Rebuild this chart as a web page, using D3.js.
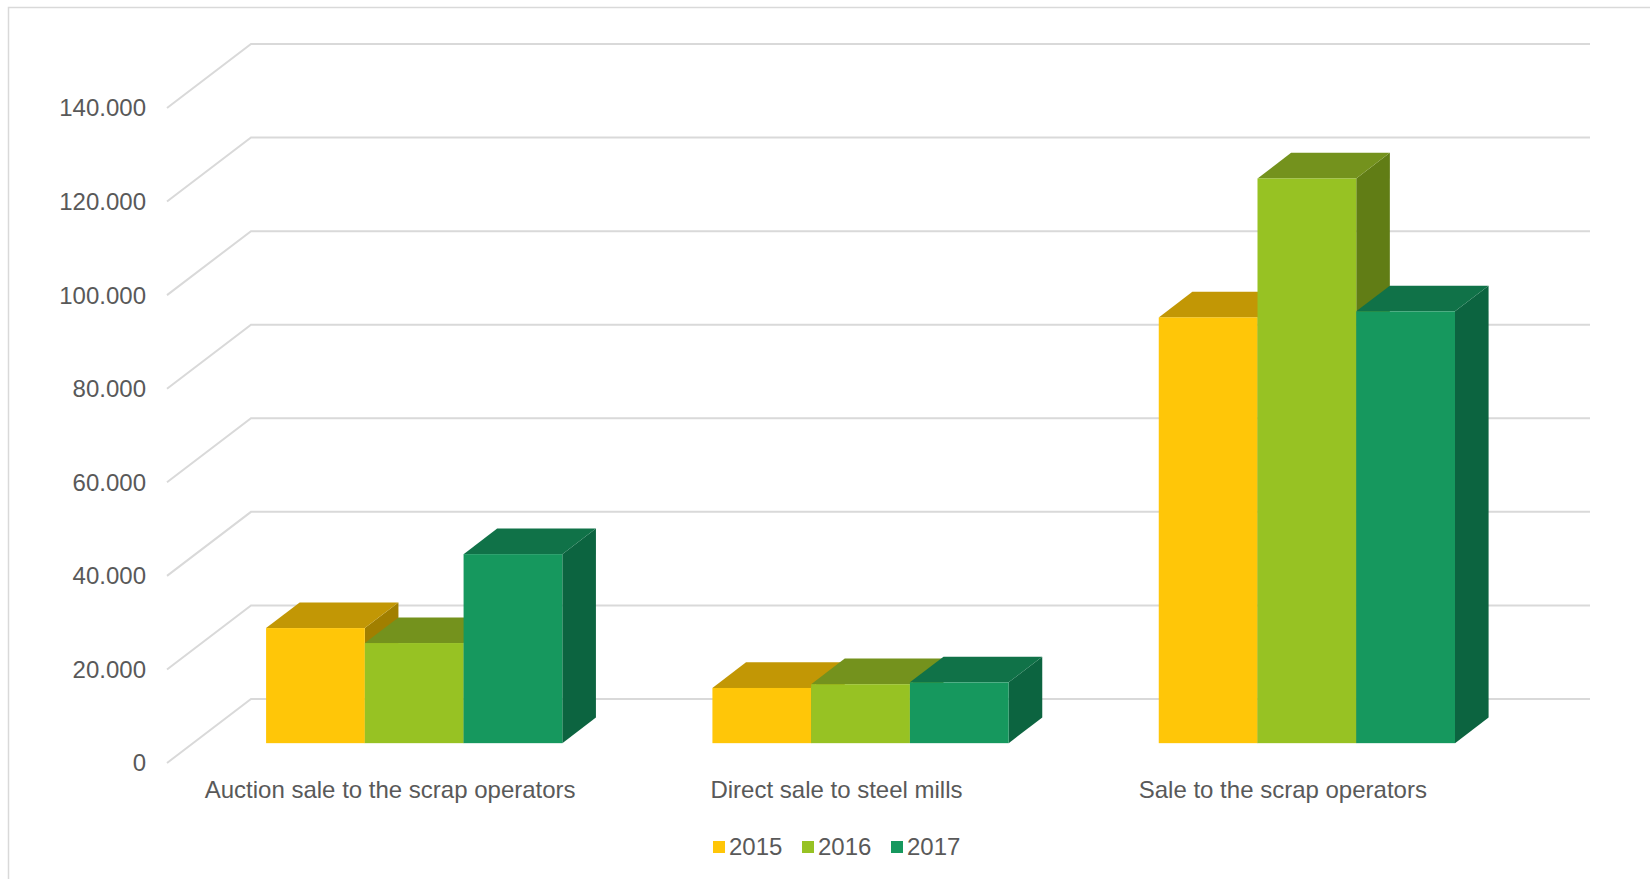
<!DOCTYPE html>
<html>
<head>
<meta charset="utf-8">
<script src="https://cdn.jsdelivr.net/npm/d3@7"></script>
<style>
  body { margin: 0; background: #fff; }
  svg text { font-family: "Liberation Sans", Arial, sans-serif; fill: #595959; }
</style>
</head>
<body>
<svg id="chart" width="1650" height="879"></svg>
<script>
const categories = ['Auction sale to the scrap operators', 'Direct sale to steel mills', 'Sale to the scrap operators']
const years = ['2015', '2016', '2017']
const values2015 = [24600, 11800, 91000]
const values2016 = [21400, 12600, 120700]
const values2017 = [40400, 13000, 92300]
const seriesValues = [values2015, values2016, values2017]

// front, top, side shades for each year
const colors = {
  '2015': ['#FFC608', '#C29705', '#A17F00'],
  '2016': ['#97C223', '#74921D', '#617D15'],
  '2017': ['#16985E', '#107248', '#0C6440']
}

const svg = d3.select('#chart')

// outer chart frame (only top and left edges fall inside the page)
svg.append('rect')
  .attr('x', 8.5).attr('y', 7.5)
  .attr('width', 1800).attr('height', 1000)
  .attr('fill', 'none').attr('stroke', '#D9D9D9').attr('stroke-width', 1.5)

// front plane scales; depth is an oblique offset
const y = d3.scaleLinear().domain([0, 140000]).range([763, 108])
const depthX = d3.scaleLinear().domain([0, 1]).range([0, 84])
const depthY = d3.scaleLinear().domain([0, 1]).range([0, -64])
const x0 = d3.scaleBand().domain(categories).range([167, 1506])
const x1 = d3.scaleBand().domain(years).range([0, x0.bandwidth()]).paddingInner(0).paddingOuter(0.76)
const zFront = 0.31
const zBack = 0.71
const barNudge = -2 // bars sit a touch left of the band centre

const locale = d3.formatLocale({ decimal: ',', thousands: '.', grouping: [3], currency: ['', ''] })
const fmt = locale.format(',')

// gridlines: diagonal on the side wall + horizontal on the back wall
const grid = svg.append('g').attr('class', 'grid')
  .attr('stroke', '#D9D9D9').attr('stroke-width', 2).attr('fill', 'none')
y.ticks(7).forEach(v => {
  let xf = 167
  let yf = y(v)
  let xb = xf + depthX(1)
  let yb = yf + depthY(1)
  grid.append('path').attr('d', `M${xf},${yf}L${xb},${yb}L${1590},${yb}`)
})

// value labels
svg.append('g').selectAll('text')
  .data(y.ticks(7))
  .join('text')
  .attr('x', 146)
  .attr('y', d => y(d))
  .attr('dy', '0.35em')
  .attr('text-anchor', 'end')
  .attr('font-size', 24)
  .text(d => fmt(d))

// bars
const bars = svg.append('g').attr('class', 'bars')
categories.forEach((cat, ci) => {
  years.forEach((yr, si) => {
    let v = seriesValues[si][ci]
    let w = x1.bandwidth()
    let xl = x0(cat) + x1(yr) + depthX(zFront) + barNudge
    let xr = xl + w
    let yTop = y(v) + depthY(zFront)
    let yBot = y(0) + depthY(zFront)
    let ddx = depthX(zBack - zFront)
    let ddy = depthY(zBack - zFront)
    let c = colors[yr]
    let g = bars.append('g')
    // side
    g.append('path')
      .attr('d', `M${xr},${yTop}L${xr + ddx},${yTop + ddy}L${xr + ddx},${yBot + ddy}L${xr},${yBot}Z`)
      .attr('fill', c[2])
    // top
    g.append('path')
      .attr('d', `M${xl},${yTop}L${xr},${yTop}L${xr + ddx},${yTop + ddy}L${xl + ddx},${yTop + ddy}Z`)
      .attr('fill', c[1])
    // front
    g.append('rect')
      .attr('x', xl).attr('y', yTop)
      .attr('width', w).attr('height', yBot - yTop)
      .attr('fill', c[0])
  })
})

// category labels
svg.append('g').selectAll('text')
  .data(categories)
  .join('text')
  .attr('x', d => x0(d) + x0.bandwidth() / 2)
  .attr('y', 790)
  .attr('dy', '0.35em')
  .attr('text-anchor', 'middle')
  .attr('font-size', 24)
  .text(d => d)

// legend
const legendX = [713, 802, 891]
const legend = svg.append('g').attr('class', 'legend')
years.forEach((yr, i) => {
  legend.append('rect')
    .attr('x', legendX[i]).attr('y', 841)
    .attr('width', 12).attr('height', 12)
    .attr('fill', colors[yr][0])
  legend.append('text')
    .attr('x', legendX[i] + 16).attr('y', 847)
    .attr('dy', '0.35em')
    .attr('font-size', 24)
    .text(yr)
})
</script>
</body>
</html>
